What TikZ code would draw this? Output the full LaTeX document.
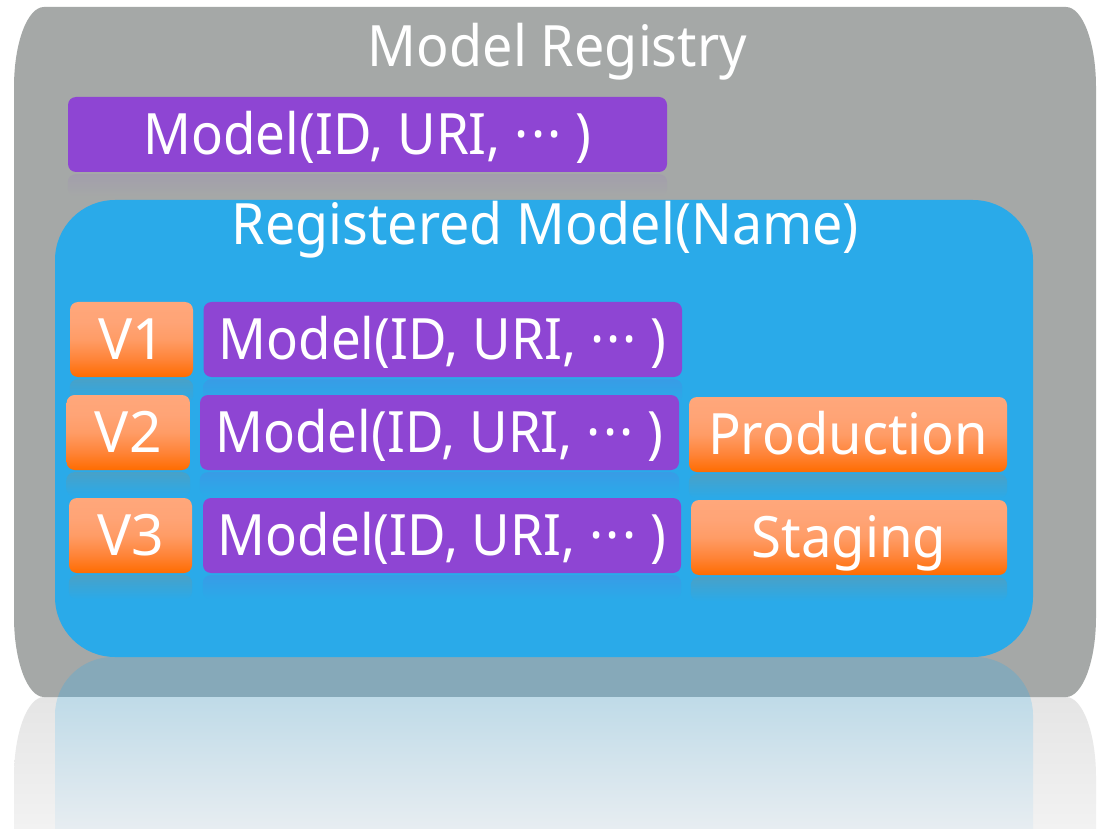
\documentclass[tikz,border=0pt]{standalone}
\usepackage{fontspec}
\setmainfont{Noto Sans}
\usetikzlibrary{calc}
\pgfdeclarelayer{back}
\pgfdeclarelayer{mid}
\pgfsetlayers{back,mid,main}
\definecolor{mgray}{HTML}{A5A8A7}
\definecolor{mblue}{HTML}{2AAAE9}
\definecolor{mpurple}{HTML}{8E45D3}
\definecolor{oranT}{HTML}{FFA77B}
\definecolor{oranU}{HTML}{FFA476}
\definecolor{oranM}{HTML}{FF9C66}
\definecolor{oranL}{HTML}{FF8438}
\definecolor{oranB}{HTML}{FF6C00}
\definecolor{reflA}{HTML}{86A9B9}
\definecolor{reflBt}{HTML}{B3D5E5}
\definecolor{reflBb}{HTML}{E7EDF1}
\definecolor{greyRt}{HTML}{E5E5E5}
\definecolor{greyRb}{HTML}{F2F2F2}
\pgfdeclareverticalshading{orangesh}{100bp}{color(0bp)=(oranB); color(25bp)=(oranB); color(37bp)=(oranL); color(50bp)=(oranM); color(62bp)=(oranU); color(75bp)=(oranT); color(100bp)=(oranT)}
\newcommand\bigfont{\fontsize{57pt}{60pt}\selectfont}
\newcommand\mdots{·\kern2.5pt·\kern2.5pt·}
% rectangle with elliptic corners: x1 y1 x2 y2 rx ry (y grows downward)
\newcommand\ellrect[6]{({#1+#5},#2) -- ({#3-#5},#2) .. controls ({#3-0.4477*#5},#2) and (#3,{#2+0.4477*#6}) .. (#3,{#2+#6}) -- (#3,{#4-#6}) .. controls (#3,{#4-0.4477*#6}) and ({#3-0.4477*#5},#4) .. ({#3-#5},#4) -- ({#1+#5},#4) .. controls ({#1+0.4477*#5},#4) and (#1,{#4-0.4477*#6}) .. (#1,{#4-#6}) -- (#1,{#2+#6}) .. controls (#1,{#2+0.4477*#6}) and ({#1+0.4477*#5},#2) .. cycle}
% rectangle with only the top corners rounded
\newcommand\toprr[6]{({#1+#5},#2) -- ({#3-#5},#2) .. controls ({#3-0.4477*#5},#2) and (#3,{#2+0.4477*#6}) .. (#3,{#2+#6}) -- (#3,#4) -- (#1,#4) -- (#1,{#2+#6}) .. controls (#1,{#2+0.4477*#6}) and ({#1+0.4477*#5},#2) .. cycle}
\newcommand\boxrefl[4]{\shade[top color=#2, bottom color=#3, rounded corners=8pt] ($(#1.south west)+(0,2)$) rectangle ($(#1.south east)+(0,#4)$);}
\tikzset{
  box/.style={rectangle, rounded corners=8pt, inner sep=0pt, minimum height=75pt,
    text=white, font=\bigfont, text height=40.7pt, text depth=0pt},
  purplebox/.style={box, fill=mpurple},
  orangebox/.style={box, shade, shading=orangesh},
  title/.style={inner sep=0pt, text=white, font=\bigfont, anchor=base},
}
\begin{document}
\begin{tikzpicture}[x=1pt,y=-1pt]
\useasboundingbox (0,0) rectangle (1101,829);
\begin{pgfonlayer}{back}
\fill[white] (0,0) rectangle (1101,829);
% reflection of the registry box
\shade[top color=greyRt, bottom color=greyRb] \toprr{14}{697}{1096}{829}{30}{80};
% registry box
\fill[mgray] \ellrect{14}{7}{1096}{697}{30}{80};
% reflection of the registered model box
\begin{scope}
  \clip \ellrect{14}{7}{1096}{697}{30}{80};
  \fill[reflA] \toprr{55}{657}{1033}{829}{58}{58};
\end{scope}
\begin{scope}
  \clip (0,697) rectangle (1101,829);
  \shade[top color=reflBt, bottom color=reflBb] \toprr{55}{657}{1033}{829}{58}{58};
\end{scope}
\end{pgfonlayer}
% titles and boxes
\node[title] (mrtitle) at (557.5,67) {\resizebox{379pt}{\height}{Model Registry}};
\node[purplebox, minimum width=599pt] (m0) at (367.5,134.5) {\resizebox{448pt}{\height}{Model(ID, URI, \mdots\ )}};
\begin{pgfonlayer}{back}
\node[rectangle, rounded corners=60pt, fill=mblue, minimum width=978pt, minimum height=457pt, inner sep=0pt] (reg) at (544,428.5) {};
\end{pgfonlayer}
\node[title] (regtitle) at (545.5,245) {\resizebox{627pt}{\height}{Registered Model(Name)}};
% rows
\node[orangebox, minimum width=123pt] (v1) at (131.5,339.5) {V1};
\node[purplebox, minimum width=478.5pt] (m1) at (442.75,339.5) {\resizebox{448pt}{\height}{Model(ID, URI, \mdots\ )}};
\node[orangebox, minimum width=123.4pt] (v2) at (128.3,432.5) {V2};
\node[purplebox, minimum width=479pt] (m2) at (439.5,432.5) {\resizebox{448pt}{\height}{Model(ID, URI, \mdots\ )}};
\node[orangebox, minimum width=318pt] (prod) at (848,434.5) {\resizebox{280pt}{\height}{Production}};
\node[orangebox, minimum width=123pt] (v3) at (130.5,535.5) {V3};
\node[purplebox, minimum width=478pt] (m3) at (442,535.5) {\resizebox{448pt}{\height}{Model(ID, URI, \mdots\ )}};
\node[orangebox, minimum width=316pt] (stag) at (849,537.5) {\resizebox{195pt}{\height}{Staging}};
% faint reflections under the boxes
\begin{pgfonlayer}{mid}
\boxrefl{m0}{mpurple!10!mgray}{mgray}{24}
\boxrefl{v1}{oranB!14!mblue}{mblue}{26}
\boxrefl{v2}{oranB!14!mblue}{mblue}{26}
\boxrefl{v3}{oranB!14!mblue}{mblue}{26}
\boxrefl{prod}{oranB!14!mblue}{mblue}{26}
\boxrefl{stag}{oranB!14!mblue}{mblue}{26}
\boxrefl{m1}{mpurple!14!mblue}{mblue}{26}
\boxrefl{m2}{mpurple!14!mblue}{mblue}{26}
\boxrefl{m3}{mpurple!14!mblue}{mblue}{26}
\end{pgfonlayer}
\end{tikzpicture}
\end{document}
